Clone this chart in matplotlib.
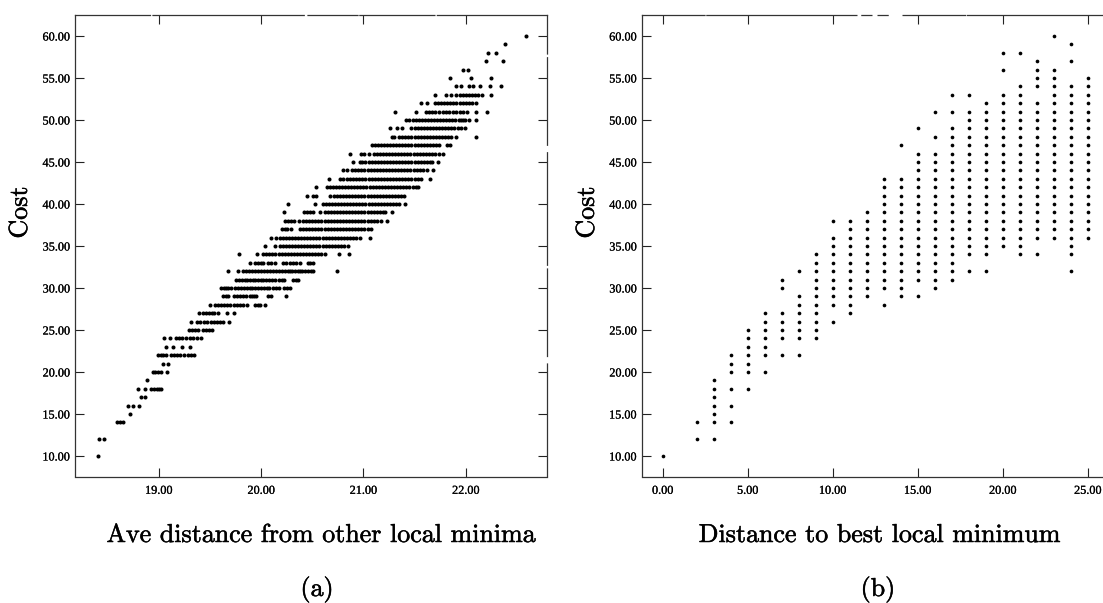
import matplotlib
matplotlib.use('Agg')
import matplotlib.pyplot as plt
import matplotlib.patheffects as pe

W, H = 1103, 603

a_10 = [18.40]
a_12 = [18.41, 18.46]
a_14 = [18.59, 18.62, 18.65]
a_15 = [18.72]
a_16 = [18.70, 18.75, 18.81]
a_17 = [18.83, 18.86]
a_18 = [18.80, 18.86, 18.92, 18.95, 18.98, 19.00, 19.02]
a_19 = [18.88]
a_20 = [18.94, 18.96, 18.99, 19.02, 19.08]
a_21 = [19.04, 19.09]
a_22 = [18.99, 19.02, 19.04, 19.07, 19.12, 19.15, 19.18, 19.21, 19.25, 19.28, 19.31, 19.34]
a_23 = [19.07, 19.14, 19.23, 19.30]
a_24 = [19.05, 19.11, 19.17, 19.20, 19.23, 19.27, 19.30, 19.33, 19.37, 19.41]
a_25 = [19.29, 19.32, 19.35, 19.38, 19.43, 19.46, 19.49, 19.52]
a_26 = [19.31, 19.37, 19.40, 19.44, 19.47, 19.51, 19.54, 19.57, 19.60, 19.63, 19.69]
a_27 = [19.39, 19.43, 19.46, 19.49, 19.52, 19.54, 19.58, 19.67, 19.73]
a_28 = [19.50, 19.55, 19.58, 19.61, 19.64, 19.67, 19.70, 19.73, 19.76, 19.79, 19.82, 19.86, 19.94, 19.97, 19.99, 20.04]
a_29 = [19.63, 19.66, 19.68, 19.73, 19.76, 19.79, 19.82, 19.85, 19.89, 19.91, 19.93, 19.95, 20.07, 20.10, 20.24]
a_30 = [19.61, 19.64, 19.66, 19.68, 19.71, 19.74, 19.77, 19.80, 19.83, 19.86, 19.89, 19.91, 19.94, 19.97, 20.00, 20.03,
        20.06, 20.08, 20.12, 20.15, 20.17, 20.22, 20.25, 20.28]
a_31 = [19.75, 19.78, 19.81, 19.84, 19.86, 19.89, 19.92, 19.94, 19.97, 20.00, 20.02, 20.05, 20.08, 20.11, 20.14, 20.17,
        20.20, 20.22, 20.31, 20.34, 20.36]
a_32 = [19.68, 19.77, 19.82, 19.85, 19.88, 19.91, 19.94, 19.97, 20.00, 20.03, 20.06, 20.09, 20.12, 20.15, 20.17, 20.20,
        20.23, 20.26, 20.28, 20.30, 20.33, 20.36, 20.38, 20.40, 20.43, 20.46, 20.49, 20.51, 20.74]
a_33 = [19.89, 19.94, 19.97, 20.00, 20.02, 20.07, 20.10, 20.14, 20.21, 20.24, 20.28, 20.31, 20.34, 20.38, 20.46, 20.48,
        20.51]
a_34 = [19.78, 19.96, 20.02, 20.05, 20.08, 20.11, 20.14, 20.17, 20.20, 20.23, 20.26, 20.29, 20.32, 20.35, 20.38, 20.41,
        20.44, 20.47, 20.50, 20.53, 20.56, 20.59, 20.62, 20.76, 20.86]
a_35 = [20.04, 20.14, 20.18, 20.21, 20.24, 20.27, 20.30, 20.33, 20.36, 20.39, 20.42, 20.45, 20.48, 20.51, 20.54, 20.57,
        20.60, 20.63, 20.66, 20.69, 20.72, 20.75, 20.78, 20.81, 20.85]
a_36 = [20.10, 20.15, 20.18, 20.21, 20.24, 20.27, 20.30, 20.33, 20.36, 20.39, 20.42, 20.45, 20.48, 20.51, 20.54, 20.57,
        20.60, 20.63, 20.66, 20.69, 20.72, 20.75, 20.78, 20.81, 20.84, 20.87, 20.90, 20.93, 20.97, 21.06]
a_37 = [20.20, 20.23, 20.25, 20.29, 20.38, 20.41, 20.44, 20.47, 20.50, 20.53, 20.56, 20.59, 20.62, 20.65, 20.68, 20.71,
        20.74, 20.77, 20.80, 20.83, 20.86, 20.89, 20.92, 20.95, 20.98, 21.01, 21.04, 21.07]
a_38 = [20.23, 20.26, 20.29, 20.32, 20.37, 20.41, 20.44, 20.47, 20.50, 20.53, 20.56, 20.59, 20.62, 20.65, 20.68, 20.71,
        20.74, 20.77, 20.80, 20.83, 20.86, 20.89, 20.92, 20.95, 20.98, 21.01, 21.04, 21.07, 21.10, 21.13, 21.17, 21.23]
a_39 = [20.22, 20.42, 20.45, 20.48, 20.51, 20.58, 20.62, 20.65, 20.68, 20.71, 20.74, 20.77, 20.80, 20.83, 20.86, 20.89,
        20.92, 20.95, 20.98, 21.01, 21.04, 21.07, 21.10, 21.13, 21.16, 21.19, 21.21, 21.28]
a_40 = [20.26, 20.53, 20.60, 20.63, 20.66, 20.69, 20.72, 20.75, 20.78, 20.81, 20.84, 20.87, 20.90, 20.93, 20.96, 20.99,
        21.02, 21.05, 21.08, 21.11, 21.14, 21.17, 21.20, 21.23, 21.26, 21.29, 21.32, 21.35, 21.41]
a_41 = [20.45, 20.51, 20.54, 20.67, 20.71, 20.74, 20.77, 20.80, 20.83, 20.86, 20.89, 20.92, 20.95, 20.98, 21.01, 21.04,
        21.07, 21.10, 21.13, 21.16, 21.19, 21.22, 21.25, 21.28, 21.31, 21.34, 21.37, 21.40]
a_42 = [20.54, 20.64, 20.67, 20.70, 20.73, 20.76, 20.79, 20.82, 20.85, 20.88, 20.91, 20.94, 20.97, 21.00, 21.03, 21.06,
        21.09, 21.12, 21.15, 21.18, 21.21, 21.24, 21.27, 21.30, 21.33, 21.36, 21.39, 21.42, 21.45, 21.48, 21.51, 21.53]
a_43 = [20.66, 20.77, 20.80, 20.84, 20.87, 20.90, 20.93, 20.96, 20.99, 21.02, 21.05, 21.08, 21.11, 21.14, 21.17, 21.20,
        21.23, 21.26, 21.29, 21.32, 21.35, 21.38, 21.41, 21.44, 21.47, 21.50, 21.53, 21.56, 21.65]
a_44 = [20.80, 20.84, 20.89, 20.92, 20.95, 20.98, 21.01, 21.04, 21.07, 21.10, 21.13, 21.16, 21.19, 21.22, 21.25, 21.28,
        21.31, 21.34, 21.37, 21.40, 21.43, 21.46, 21.49, 21.52, 21.55, 21.58, 21.62, 21.68]
a_45 = [20.90, 20.97, 20.99, 21.02, 21.05, 21.08, 21.11, 21.14, 21.17, 21.20, 21.23, 21.26, 21.29, 21.32, 21.35, 21.38,
        21.41, 21.44, 21.47, 21.50, 21.53, 21.56, 21.59, 21.62, 21.65, 21.67, 21.73]
a_46 = [20.87, 20.98, 21.01, 21.05, 21.10, 21.13, 21.16, 21.19, 21.22, 21.25, 21.28, 21.31, 21.34, 21.37, 21.40, 21.43,
        21.46, 21.49, 21.52, 21.55, 21.58, 21.61, 21.64, 21.67, 21.70, 21.74, 21.78]
a_47 = [21.08, 21.11, 21.14, 21.17, 21.20, 21.23, 21.26, 21.29, 21.32, 21.35, 21.38, 21.41, 21.44, 21.47, 21.50, 21.53,
        21.56, 21.59, 21.62, 21.65, 21.68, 21.71, 21.74, 21.82, 21.85]
a_48 = [21.28, 21.30, 21.35, 21.38, 21.41, 21.44, 21.47, 21.50, 21.53, 21.56, 21.59, 21.62, 21.65, 21.68, 21.71, 21.74,
        21.77, 21.80, 21.83, 21.86, 21.91, 22.10]
a_49 = [21.26, 21.33, 21.38, 21.47, 21.50, 21.53, 21.56, 21.59, 21.62, 21.65, 21.68, 21.71, 21.74, 21.77, 21.80, 21.83,
        21.86, 21.89, 21.92, 21.95, 21.99]
a_50 = [21.42, 21.45, 21.48, 21.51, 21.54, 21.57, 21.60, 21.63, 21.66, 21.69, 21.72, 21.75, 21.78, 21.81, 21.84, 21.87,
        21.90, 21.93, 21.95, 21.97, 21.99, 22.03, 22.10]
a_51 = [21.31, 21.51, 21.61, 21.64, 21.67, 21.70, 21.74, 21.78, 21.81, 21.84, 21.88, 21.91, 21.94, 21.97, 22.01, 22.10,
        22.21]
a_52 = [21.56, 21.62, 21.70, 21.73, 21.76, 21.79, 21.82, 21.85, 21.88, 21.91, 21.94, 21.97, 22.00, 22.03, 22.06, 22.10]
a_53 = [21.70, 21.81, 21.86, 21.91, 21.94, 21.97, 22.00, 22.03, 22.06, 22.09, 22.12, 22.16, 22.25]
a_54 = [21.91, 21.95, 22.03, 22.07, 22.14, 22.24, 22.35]
a_55 = [21.85, 22.05, 22.25]
a_56 = [21.97, 22.02]
a_57 = [22.20, 22.36]
a_58 = [22.22, 22.30]
a_59 = [22.38]
a_60 = [22.59]
costs_a = [10, 12, 14, 15, 16, 17, 18, 19, 20, 21, 22, 23, 24, 25, 26, 27, 28, 29, 30, 31, 32, 33, 34, 35, 36, 37, 38,
           39, 40, 41, 42, 43, 44, 45, 46, 47, 48, 49, 50, 51, 52, 53, 54, 55, 56, 57, 58, 59, 60]
rows_a = [a_10, a_12, a_14, a_15, a_16, a_17, a_18, a_19, a_20, a_21, a_22, a_23, a_24, a_25, a_26, a_27, a_28, a_29,
          a_30, a_31, a_32, a_33, a_34, a_35, a_36, a_37, a_38, a_39, a_40, a_41, a_42, a_43, a_44, a_45, a_46, a_47,
          a_48, a_49, a_50, a_51, a_52, a_53, a_54, a_55, a_56, a_57, a_58, a_59, a_60]

# (b) costs seen in each distance column
b_0 = [10]
b_2 = [12, 14]
b_3 = [12, 14, 15, 16, 17, 18, 19]
b_4 = [14, 16, 18, 20, 21, 22]
b_5 = [18, 20, 21, 22, 23, 24, 25]
b_6 = [20, 22, 23, 24, 25, 26, 27]
b_7 = [22, 24, 25, 26, 27, 30, 31]
b_8 = [22, 24, 25, 26, 27, 28, 29, 32]
b_9 = [24, 25, 26, 27, 28, 29, 30, 31, 32, 33, 34]
b_10 = [26, 28, 29, 30, 31, 32, 33, 34, 35, 36, 38]
b_11 = [27, 28, 29, 30, 31, 32, 33, 34, 35, 36, 37, 38]
b_12 = [29, 30, 31, 32, 33, 34, 35, 36, 37, 38, 39]
b_13 = [28, 30, 31, 32, 33, 34, 35, 36, 37, 38, 39, 40, 41, 42, 43]
b_14 = [29, 30, 31, 32, 33, 34, 35, 36, 37, 38, 39, 40, 41, 42, 43, 47]
b_15 = [29, 31, 32, 33, 34, 35, 36, 37, 38, 39, 40, 41, 42, 43, 44, 45, 46, 49]
b_16 = [30, 31, 32, 33, 34, 35, 36, 37, 38, 39, 40, 41, 42, 43, 44, 45, 46, 48, 51]
b_17 = [31, 32, 33, 34, 35, 36, 37, 38, 39, 40, 41, 42, 43, 44, 45, 46, 47, 48, 49, 51, 53]
b_18 = [32, 34, 35, 36, 37, 38, 39, 40, 41, 42, 43, 44, 45, 46, 47, 48, 49, 50, 51, 53]
b_19 = [32, 34, 35, 36, 37, 38, 39, 40, 41, 42, 43, 44, 45, 46, 47, 48, 49, 50, 51, 52]
b_20 = [35, 36, 37, 38, 39, 40, 41, 42, 43, 44, 45, 46, 47, 48, 49, 50, 51, 52, 53, 56, 58]
b_21 = [34, 35, 36, 37, 38, 39, 40, 41, 42, 43, 44, 45, 46, 47, 48, 49, 50, 51, 52, 53, 54, 58]
b_22 = [34, 36, 37, 38, 39, 40, 41, 42, 43, 44, 45, 46, 47, 48, 49, 50, 51, 52, 54, 55, 56, 57]
b_23 = [36, 37, 38, 39, 40, 41, 42, 43, 44, 45, 46, 47, 48, 49, 50, 51, 52, 53, 54, 55, 56, 60]
b_24 = [32, 34, 35, 36, 37, 38, 39, 40, 41, 42, 43, 44, 45, 46, 47, 48, 49, 50, 51, 52, 53, 54, 57, 59]
b_25 = [36, 37, 38, 39, 40, 41, 42, 43, 44, 45, 46, 47, 48, 49, 50, 51, 52, 53, 54, 55]
dists_b = [0, 2, 3, 4, 5, 6, 7, 8, 9, 10, 11, 12, 13, 14, 15, 16, 17, 18, 19, 20, 21, 22, 23, 24, 25]
cols_b = [b_0, b_2, b_3, b_4, b_5, b_6, b_7, b_8, b_9, b_10, b_11, b_12, b_13, b_14, b_15, b_16, b_17, b_18, b_19,
          b_20, b_21, b_22, b_23, b_24, b_25]

yticks = [10, 15, 20, 25, 30, 35, 40, 45, 50, 55, 60]
xticks_a = [19, 20, 21, 22]
xticks_b = [0, 5, 10, 15, 20, 25]

xs_a, ys_a = [], []
for c, row in zip(costs_a, rows_a):
    xs_a += row
    ys_a += [c] * len(row)

xs_b, ys_b = [], []
for d, col in zip(dists_b, cols_b):
    xs_b += [d] * len(col)
    ys_b += col

LABEL_FONT = ['cmr10', 'Liberation Serif']
TICK_FONT = 'Liberation Serif'
LABEL_SIZE = 18.7
plt.rcParams['axes.formatter.use_mathtext'] = True

# the scan prints heavier than the bare font
heavy = [pe.withStroke(linewidth=0.35, foreground='black')]
heavy_tick = [pe.withStroke(linewidth=0.15, foreground='black')]


def make_axes(fig, left, right, top, bottom):
    return fig.add_axes([left / W, 1 - bottom / H, (right - left) / W, (bottom - top) / H])


def style_axes(ax, xticks):
    ax.set_ylim(7.56, 62.5)
    ax.set_xticks(xticks)
    ax.set_yticks(yticks)
    ax.set_xticklabels([f'{v:.2f}' for v in xticks], family=TICK_FONT, fontsize=8.8)
    ax.set_yticklabels([f'{v:.2f}' for v in yticks], family=TICK_FONT, fontsize=8.8)
    ax.tick_params(axis='both', direction='in', length=6.5, width=0.8, top=True, right=True, color='#222222')
    ax.tick_params(axis='y', pad=3.6)
    ax.tick_params(axis='x', pad=6)
    for lab in ax.get_xticklabels() + ax.get_yticklabels():
        lab.set_path_effects(heavy_tick)
    for spine in ax.spines.values():
        spine.set_linewidth(0.9)
        spine.set_color('#333333')


fig = plt.figure(figsize=(W / 100, H / 100), dpi=100)

ax1 = make_axes(fig, 75, 547, 15, 476.5)
ax1.scatter(xs_a, ys_a, s=8.5, color='black', linewidths=0)
ax1.set_xlim(18.18, 22.795)
style_axes(ax1, xticks_a)
ax1.spines['top'].set_linestyle((0, (60, 2, 30, 1, 90, 3, 40, 1.5)))
ax1.spines['right'].set_linestyle((0, (90, 6, 70, 3)))

ax2 = make_axes(fig, 641.7, 1101.7, 15, 476.5)
ax2.scatter(xs_b, ys_b, s=7, color='black', linewidths=0)
ax2.set_xlim(-1.235, 25.82)
style_axes(ax2, xticks_b)
ax2.spines['top'].set_linestyle((0, (50, 1.5, 120, 4, 8, 5, 8, 12)))
ax2.spines['right'].set_visible(False)
ax2.tick_params(axis='y', which='major', right=False)

# labels sit outside the axes at fixed places, like the printed page
fig.text(321 / W, 1 - 542 / H, 'Ave distance from other local minima', family=LABEL_FONT, fontsize=LABEL_SIZE,
         ha='center', va='baseline', path_effects=heavy)
fig.text(879.5 / W, 1 - 542 / H, 'Distance to best local minimum', family=LABEL_FONT, fontsize=LABEL_SIZE,
         ha='center', va='baseline', path_effects=heavy)
fig.text(317 / W, 1 - 596 / H, '(a)', family=LABEL_FONT, fontsize=LABEL_SIZE, ha='center', va='baseline',
         path_effects=heavy)
fig.text(878 / W, 1 - 596 / H, '(b)', family=LABEL_FONT, fontsize=LABEL_SIZE, ha='center', va='baseline',
         path_effects=heavy)
fig.text(20 / W, 1 - 212.5 / H, 'Cost', family=LABEL_FONT, fontsize=LABEL_SIZE, rotation=90, ha='center', va='center',
         path_effects=heavy)
fig.text(587 / W, 1 - 212.5 / H, 'Cost', family=LABEL_FONT, fontsize=LABEL_SIZE, rotation=90, ha='center', va='center',
         path_effects=heavy)

fig.savefig('out.png', dpi=100)
plt.close(fig)
